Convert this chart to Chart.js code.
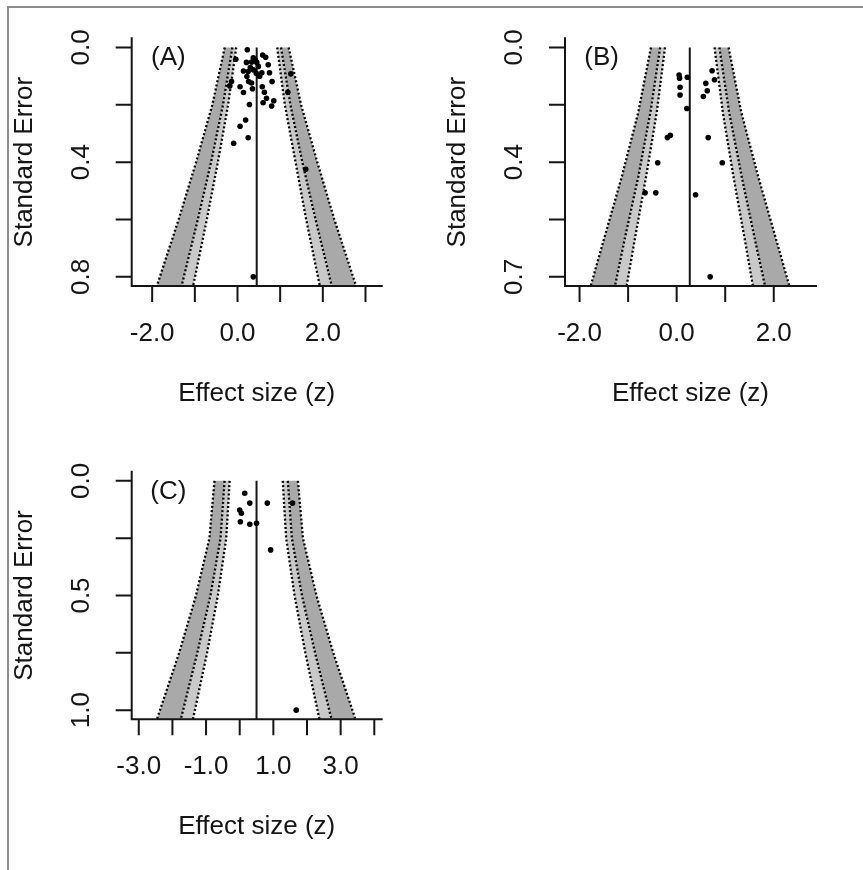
<!DOCTYPE html>
<html>
<head>
<meta charset="utf-8">
<title>Funnel plots</title>
<script src="https://cdn.jsdelivr.net/npm/chart.js@4.4.1/dist/chart.umd.min.js"></script>
<style>
  html, body { margin: 0; padding: 0; background: #fff; }
  #page { position: relative; width: 863px; height: 870px; overflow: hidden; background: #fff; }
  #frame { position: absolute; left: 7px; top: 6px; width: 870px; height: 880px;
           border-top: 2px solid #8c8c8c; border-left: 2px solid #8c8c8c; }
  canvas { position: absolute; left: 0; top: 0; }
</style>
</head>
<body>
<div id="page">
  <div id="frame"></div>
  <canvas id="panelA" width="863" height="870"></canvas>
  <canvas id="panelB" width="863" height="870"></canvas>
  <canvas id="panelC" width="863" height="870"></canvas>
</div>
<script>
// ---------- Panel (A) ----------
const effectA = [0.23, -0.04, 0.37, 0.59, 0.66, 0.21, 0.33, 0.45, 0.49, 0.72,
                 0.14, 0.37, 0.57, 0.75, 1.25, 0.25, 0.22, 0.26, 0.33, -0.14,
                 -0.18, 0.06, 0.35, 0.58, 0.81, 0.14, 0.63, 1.18, 0.68, 0.85,
                 0.60, 0.80, 0.28, 0.19, 0.06, 0.25, -0.09, 1.60, 0.37, 0.42,
                 0.52, 0.30, 0.44];
const seA     = [0.008, 0.041, 0.036, 0.026, 0.034, 0.052, 0.051, 0.052, 0.066, 0.060,
                 0.082, 0.078, 0.088, 0.088, 0.092, 0.084, 0.101, 0.119, 0.124, 0.119,
                 0.134, 0.137, 0.144, 0.137, 0.119, 0.157, 0.156, 0.156, 0.177, 0.186,
                 0.193, 0.204, 0.199, 0.253, 0.275, 0.315, 0.334, 0.425, 0.800, 0.045,
                 0.100, 0.070, 0.090];
const estimateA = 0.45;
const contourSeA = [0, 0.2, 0.4, 0.6, 0.832];
const lo99A = [-0.30, -0.59, -0.97, -1.38, -1.89];
const lo95A = [-0.12, -0.34, -0.62, -0.93, -1.31];
const lo90A = [-0.03, -0.22, -0.46, -0.72, -1.04];
const hi90A = [0.93, 1.11, 1.36, 1.61, 1.93];
const hi95A = [1.02, 1.24, 1.52, 1.83, 2.21];
const hi99A = [1.20, 1.49, 1.87, 2.27, 2.78];
const xTicksA  = [-2, -1, 0, 1, 2, 3];
const xLabelsA = ['-2.0', '', '0.0', '', '2.0', ''];
const yTicksA  = [0, 0.2, 0.4, 0.6, 0.8];
const yLabelsA = ['0.0', '', '0.4', '', '0.8'];

// ---------- Panel (B) ----------
const effectB = [0.05, 0.06, 0.22, 0.07, 0.07, 0.21, -0.19, -0.13, -0.39, -0.65,
                 -0.43, 0.39, 0.73, 0.78, 0.60, 0.63, 0.55, 0.65, 0.94, 0.69];
const seB     = [0.085, 0.095, 0.092, 0.123, 0.147, 0.189, 0.279, 0.272, 0.357, 0.450,
                 0.450, 0.456, 0.072, 0.100, 0.111, 0.134, 0.152, 0.279, 0.357, 0.710];
const estimateB = 0.27;
const contourSeB = [0, 0.2, 0.4, 0.6, 0.738];
const lo99B = [-0.53, -0.79, -1.13, -1.51, -1.77];
const lo95B = [-0.34, -0.54, -0.79, -1.08, -1.27];
const lo90B = [-0.24, -0.41, -0.63, -0.87, -1.03];
const hi90B = [0.78, 0.95, 1.17, 1.41, 1.57];
const hi95B = [0.88, 1.08, 1.34, 1.62, 1.82];
const hi99B = [1.07, 1.33, 1.68, 2.06, 2.32];
const xTicksB  = [-2, -1, 0, 1, 2];
const xLabelsB = ['-2.0', '', '0.0', '', '2.0'];
const yTicksB  = [0, 0.1775, 0.355, 0.5325, 0.71];
const yLabelsB = ['0.0', '', '0.4', '', '0.7'];

// ---------- Panel (C) ----------
const effectC = [0.15, 0.30, 0.82, 1.57, 0.00, 0.05, 0.02, 0.30, 0.50, 0.92, 1.68];
const seC     = [0.054, 0.097, 0.097, 0.097, 0.127, 0.141, 0.178, 0.189, 0.185, 0.301, 1.000];
const estimateC = 0.50;
const contourSeC = [0, 0.25, 0.5, 0.75, 1.04];
const lo99C = [-0.75, -0.90, -1.30, -1.80, -2.46];
const lo95C = [-0.45, -0.57, -0.87, -1.26, -1.75];
const lo90C = [-0.30, -0.40, -0.65, -0.97, -1.39];
const hi90C = [1.28, 1.38, 1.63, 1.95, 2.37];
const hi95C = [1.43, 1.55, 1.85, 2.24, 2.73];
const hi99C = [1.73, 1.88, 2.28, 2.78, 3.44];
const xTicksC  = [-3, -2, -1, 0, 1, 2, 3, 4];
const xLabelsC = ['-3.0', '', '-1.0', '', '1.0', '', '3.0', ''];
const yTicksC  = [0, 0.25, 0.5, 0.75, 1.0];
const yLabelsC = ['0.0', '', '0.5', '', '1.0'];

const X_TITLE = 'Effect size (z)';
const Y_TITLE = 'Standard Error';

// ---------- drawing ----------
const PAGE_W = 863, PAGE_H = 870;
const FONT = '"Liberation Sans", Arial, Helvetica, sans-serif';
const FONT_SIZE = 26;
const INK = '#151515';
const DARK_SHADE = '#a9a9a9';
const LIGHT_SHADE = '#c9c9c9';

// R-style "L" axes with outward ticks, rotated y labels and the panel tag
const rAxes = {
  id: 'rAxes',
  afterDraw(chart, args, o) {
    const { ctx, chartArea: a } = chart;
    const xs = chart.scales.x, ys = chart.scales.y;
    ctx.save();
    ctx.strokeStyle = INK;
    ctx.lineWidth = 2;
    ctx.lineCap = 'square';
    ctx.beginPath();
    ctx.moveTo(a.left, a.top);
    ctx.lineTo(a.left, a.bottom);
    ctx.lineTo(a.right, a.bottom);
    ctx.stroke();
    ctx.lineCap = 'butt';
    ctx.beginPath();
    o.xTicks.forEach(v => {
      const px = xs.getPixelForValue(v);
      ctx.moveTo(px, a.bottom);
      ctx.lineTo(px, a.bottom + 16);
    });
    o.yTicks.forEach(v => {
      const py = ys.getPixelForValue(v);
      ctx.moveTo(a.left, py);
      ctx.lineTo(a.left - 16, py);
    });
    ctx.stroke();

    ctx.fillStyle = INK;
    ctx.font = FONT_SIZE + 'px ' + FONT;
    ctx.textAlign = 'center';
    ctx.textBaseline = 'middle';
    o.xTicks.forEach((v, i) => {
      if (o.xLabels[i]) ctx.fillText(o.xLabels[i], xs.getPixelForValue(v), a.bottom + 47.5);
    });
    o.yTicks.forEach((v, i) => {
      if (!o.yLabels[i]) return;
      ctx.save();
      ctx.translate(a.left - 50, ys.getPixelForValue(v));
      ctx.rotate(-Math.PI / 2);
      ctx.fillText(o.yLabels[i], 0, 0);
      ctx.restore();
    });
    ctx.fillText(X_TITLE, (a.left + a.right) / 2, a.bottom + 107.5);
    ctx.save();
    ctx.translate(a.left - 106.7, (a.top + a.bottom) / 2);
    ctx.rotate(-Math.PI / 2);
    ctx.fillText(Y_TITLE, 0, 0);
    ctx.restore();
    ctx.fillText(o.tag, a.left + 36.6, a.top + 20);
    ctx.restore();
  }
};

function bandPoints(outerXs, innerXs, se) {
  const pts = outerXs.map((x, i) => ({ x, y: se[i] }));
  for (let i = innerXs.length - 1; i >= 0; i--) pts.push({ x: innerXs[i], y: se[i] });
  return pts;
}
function edgePoints(xs, se) {
  return xs.map((x, i) => ({ x, y: se[i] }));
}

function funnelChart(id, p) {
  const shade = (data, color) => ({
    type: 'line', data, fill: 'shape', backgroundColor: color,
    borderWidth: 0, borderColor: 'rgba(0,0,0,0)', pointRadius: 0, tension: 0, order: 10
  });
  const edge = xs => ({
    type: 'line', data: edgePoints(xs, p.cse), fill: false,
    borderColor: '#000', borderWidth: 2.3, borderDash: [2, 2.2],
    pointRadius: 0, tension: 0, order: 5
  });
  const ymax = p.cse[p.cse.length - 1];
  const datasets = [
    shade(bandPoints(p.lo99, p.lo95, p.cse), DARK_SHADE),
    shade(bandPoints(p.lo95, p.lo90, p.cse), LIGHT_SHADE),
    shade(bandPoints(p.hi90, p.hi95, p.cse), LIGHT_SHADE),
    shade(bandPoints(p.hi95, p.hi99, p.cse), DARK_SHADE),
    edge(p.lo99), edge(p.lo95), edge(p.lo90),
    edge(p.hi90), edge(p.hi95), edge(p.hi99),
    {
      type: 'line', data: [{ x: p.est, y: 0 }, { x: p.est, y: ymax }],
      borderColor: INK, borderWidth: 2, pointRadius: 0, fill: false, order: 3
    },
    {
      type: 'scatter', data: p.effect.map((x, i) => ({ x, y: p.se[i] })),
      backgroundColor: '#000', borderWidth: 0, pointRadius: 2.8, order: 1
    }
  ];
  return new Chart(document.getElementById(id), {
    type: 'scatter',
    data: { datasets },
    options: {
      responsive: false,
      animation: false,
      devicePixelRatio: 1,
      events: [],
      layout: { padding: { left: p.box[0], top: p.box[1], right: PAGE_W - p.box[2], bottom: PAGE_H - p.box[3] } },
      plugins: {
        legend: { display: false },
        tooltip: { enabled: false },
        rAxes: { xTicks: p.xTicks, xLabels: p.xLabels, yTicks: p.yTicks, yLabels: p.yLabels, tag: p.tag }
      },
      scales: {
        x: { type: 'linear', display: false, min: p.xRange[0], max: p.xRange[1] },
        y: { type: 'linear', display: false, reverse: true, min: p.yRange[0], max: p.yRange[1] }
      }
    },
    plugins: [rAxes]
  });
}

funnelChart('panelA', {
  tag: '(A)', box: [131.7, 38.3, 381.7, 286],
  xRange: [-2.48, 3.38], yRange: [-0.032, 0.832],
  effect: effectA, se: seA, est: estimateA, cse: contourSeA,
  lo99: lo99A, lo95: lo95A, lo90: lo90A, hi90: hi90A, hi95: hi95A, hi99: hi99A,
  xTicks: xTicksA, xLabels: xLabelsA, yTicks: yTicksA, yLabels: yLabelsA
});
funnelChart('panelB', {
  tag: '(B)', box: [565, 38.3, 816, 286],
  xRange: [-2.30, 2.87], yRange: [-0.0284, 0.7384],
  effect: effectB, se: seB, est: estimateB, cse: contourSeB,
  lo99: lo99B, lo95: lo95B, lo90: lo90B, hi90: hi90B, hi95: hi95B, hi99: hi99B,
  xTicks: xTicksB, xLabels: xLabelsB, yTicks: yTicksB, yLabels: yLabelsB
});
funnelChart('panelC', {
  tag: '(C)', box: [131.7, 471.7, 381.7, 719.3],
  xRange: [-3.21, 4.22], yRange: [-0.04, 1.04],
  effect: effectC, se: seC, est: estimateC, cse: contourSeC,
  lo99: lo99C, lo95: lo95C, lo90: lo90C, hi90: hi90C, hi95: hi95C, hi99: hi99C,
  xTicks: xTicksC, xLabels: xLabelsC, yTicks: yTicksC, yLabels: yLabelsC
});
</script>
</body>
</html>
